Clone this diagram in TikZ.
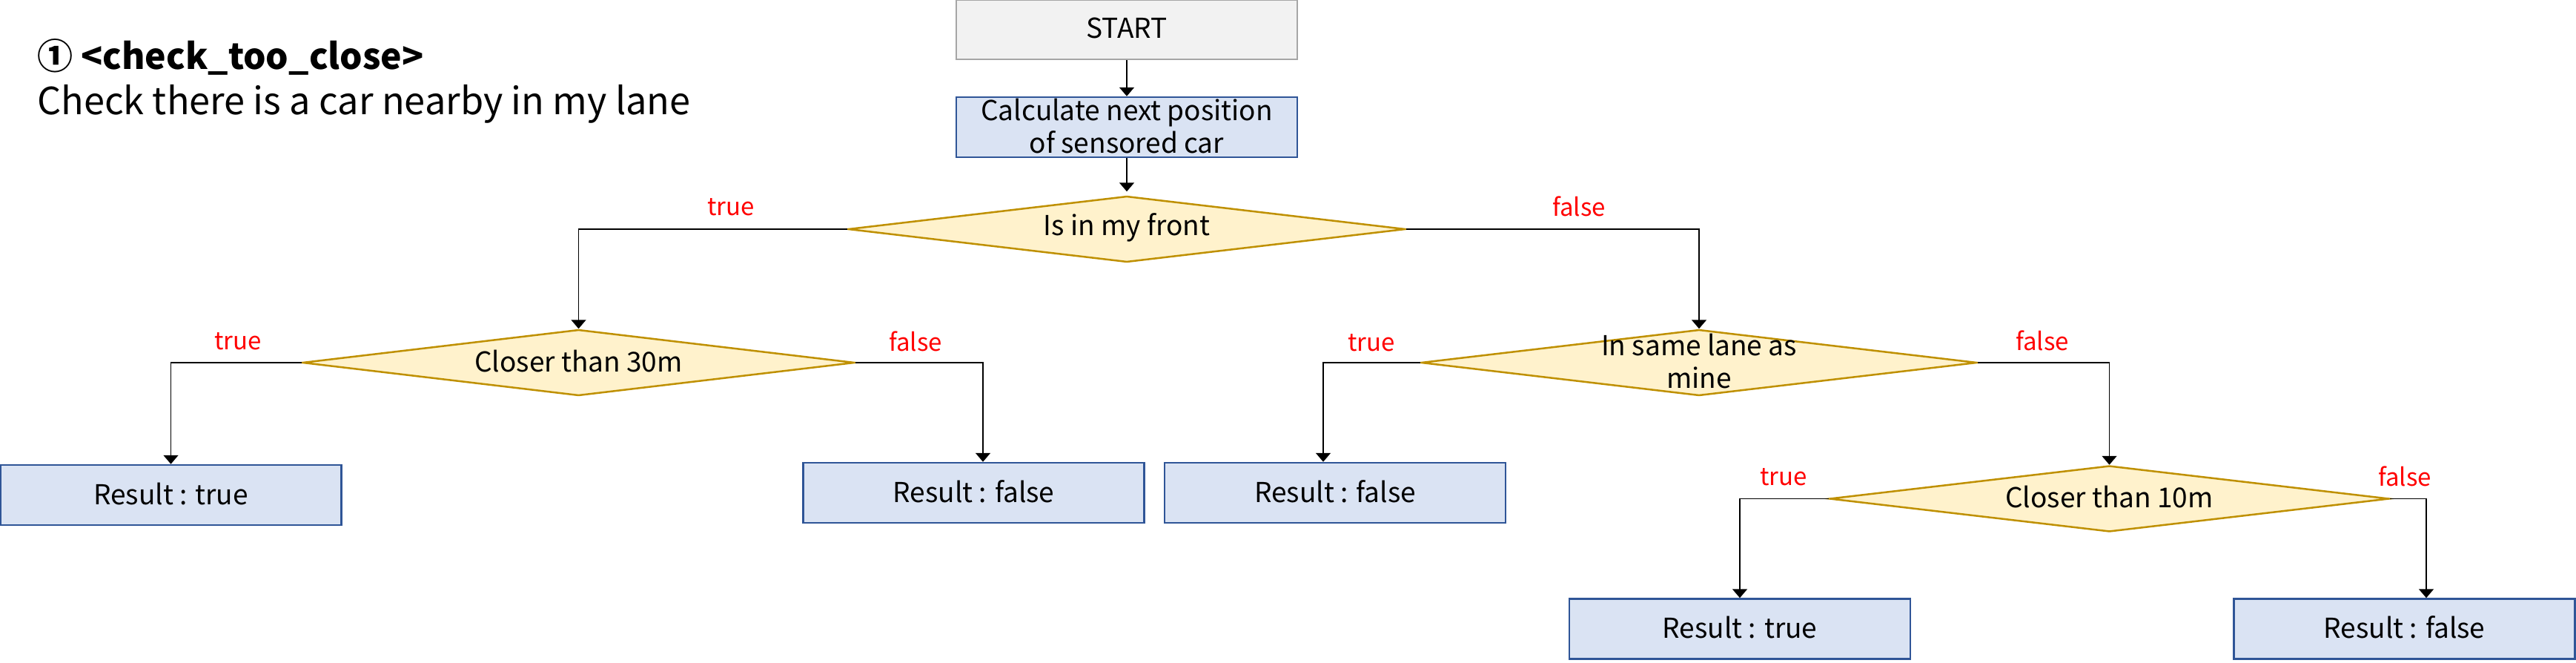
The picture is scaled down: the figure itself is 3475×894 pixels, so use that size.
\documentclass[tikz,border=0pt]{standalone}
\usepackage{fontspec}
\setmainfont{Noto Sans CJK KR}
\usetikzlibrary{shapes.geometric,arrows.meta,calc}
\definecolor{startfill}{HTML}{F2F2F2}
\definecolor{startdraw}{HTML}{A6A6A6}
\definecolor{procfill}{HTML}{DAE3F3}
\definecolor{procdraw}{HTML}{2F5597}
\definecolor{diafill}{HTML}{FFF2CC}
\definecolor{diadraw}{HTML}{BF9000}
\definecolor{lblred}{HTML}{FF0000}
\tikzset{
  basetext/.style={font=\fontsize{37pt}{44pt}\selectfont, inner sep=0pt, align=center},
  startbox/.style={basetext, text depth=4pt, draw=startdraw, fill=startfill, line width=2.5pt, minimum width=460pt, minimum height=80pt},
  procbox/.style={basetext, text depth=4pt, draw=procdraw, fill=procfill, line width=2.5pt, minimum width=460pt, minimum height=81pt},
  dia/.style={diamond, draw=diadraw, fill=diafill, line width=2.5pt, inner sep=0pt, minimum width=750pt, minimum height=89pt},
  lbl/.style={text=lblred, font=\fontsize{33pt}{38pt}\selectfont, inner sep=0pt},
  arr/.style={draw=black, line width=1.8pt, -{Triangle[width=20pt,length=12pt]}},
}
\begin{document}
\begin{tikzpicture}[x=1pt,y=-1pt]
\useasboundingbox (0,0) rectangle (3475,894);
% title
\node[anchor=base west, inner sep=0pt, font=\fontsize{48pt}{60pt}\selectfont\bfseries] (title) at (50,93) {① <check\_too\_close>};
\node[anchor=base west, inner sep=0pt, font=\fontsize{50.5pt}{60pt}\selectfont] (subtitle) at (50,154) {Check there is a car nearby in my lane};
% nodes
\node[startbox] (start) at (1520,40) {START};
\node[procbox] (calc) at (1520,171.5) {Calculate next position\\of sensored car};
\node[dia, minimum width=752pt] (d1) at (1520,309) {};
\node[basetext] (d1t) at ([yshift=2pt]d1.center) {Is in my front};
\node[dia, minimum width=745pt] (d2) at (780.5,489) {};
\node[basetext] (d2t) at ([yshift=2pt]d2.center) {Closer than 30m};
\node[dia, minimum width=750pt] (d3) at (2292,489) {};
\node[basetext] (d3t) at ([yshift=2pt]d3.center) {In same lane as\\mine};
\node[dia, minimum width=755pt] (d4) at (2845.5,672.5) {};
\node[basetext] (d4t) at ([yshift=2pt]d4.center) {Closer than 10m};
\node[procbox] (r1) at (230.5,667.5) {Result : true};
\node[procbox] (r2) at (1313.5,664.5) {Result : false};
\node[procbox] (r3) at (1801,664.5) {Result : false};
\node[procbox] (r4) at (2347,848) {Result : true};
\node[procbox] (r5) at (3243.5,848) {Result : false};
% connectors
\draw[arr] (start.south) -- (calc.north);
\draw[arr, shorten >=5pt] (calc.south) -- (d1.north);
\draw[arr] (d1.west) -| (d2.north);
\draw[arr] (d1.east) -| (d3.north);
\draw[arr] (d2.west) -| (r1.north);
\draw[arr] (d2.east) -| ([xshift=12.5pt]r2.north);
\draw[arr] (d3.west) -| ([xshift=-16pt]r3.north);
\draw[arr] (d3.east) -| (d4.north);
\draw[arr] (d4.west) -| (r4.north);
\draw[arr] (d4.east) -| ([xshift=29.5pt]r5.north);
% labels
\node[lbl] (l1t) at (986,279) {true};
\node[lbl] (l1f) at (2130,278) {false};
\node[lbl] (l2t) at (321,460) {true};
\node[lbl] (l2f) at (1235,460) {false};
\node[lbl] (l3t) at (1850,462) {true};
\node[lbl] (l3f) at (2755,459) {false};
\node[lbl] (l4t) at (2406,643) {true};
\node[lbl] (l4f) at (3244,642) {false};
\end{tikzpicture}
\end{document}
